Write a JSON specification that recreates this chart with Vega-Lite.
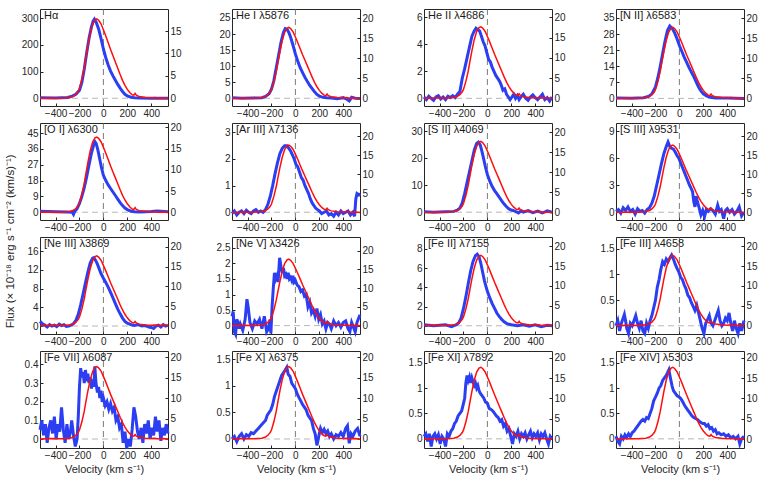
{
  "$schema": "https://vega.github.io/schema/vega-lite/v6.json",
  "background": "white",
  "padding": {"left": 5, "top": 8, "right": 2, "bottom": 2},
  "bounds": "flush",
  "title": {"text": "Flux (× 10⁻¹⁸ erg s⁻¹ cm⁻² (km/s)⁻¹)", "orient": "left", "anchor": "middle", "frame": "bounds", "fontSize": 11.5, "fontWeight": "normal", "offset": 4, "dx": 0, "color": "#262626"},
  "config": {
    "font": "Liberation Sans",
    "view": {"stroke": "#262626", "strokeWidth": 1},
    "axis": {"domain": false, "grid": false, "labelFontSize": 10, "labelColor": "#262626", "tickColor": "#262626", "tickSize": -3, "labelPadding": 5, "labelOverlap": false, "titleFontWeight": "normal", "titleFontSize": 11, "titleColor": "#262626", "titlePadding": 3, "format": "~f"},
    "axisX": {"labelOverlap": false, "labelFlush": false, "labelSeparation": 0},
    "title": {"fontWeight": "normal", "fontSize": 11, "anchor": "start", "frame": "group", "offset": -12.5, "dx": 4, "color": "#1a1a1a"},
    "line": {"clip": true}
  },
  "datasets": {
    "red": [{"v":-530,"f":0},{"v":-450,"f":0.1},{"v":-350,"f":0.05},{"v":-280,"f":0.2},{"v":-250,"f":0.5},{"v":-230,"f":0.9},{"v":-210,"f":1.6},{"v":-200,"f":2.2},{"v":-180,"f":4.2},{"v":-160,"f":6.8},{"v":-150,"f":8.5},{"v":-130,"f":11.7},{"v":-110,"f":14.5},{"v":-90,"f":16.5},{"v":-70,"f":17.5},{"v":-55,"f":17.7},{"v":-40,"f":17.4},{"v":-20,"f":16.6},{"v":0,"f":15.3},{"v":20,"f":13.9},{"v":40,"f":12.4},{"v":60,"f":10.9},{"v":80,"f":9.5},{"v":100,"f":8.1},{"v":120,"f":6.7},{"v":140,"f":5.3},{"v":160,"f":4.0},{"v":180,"f":2.9},{"v":200,"f":2.0},{"v":220,"f":1.3},{"v":240,"f":0.8},{"v":255,"f":0.7},{"v":265,"f":1.1},{"v":275,"f":0.7},{"v":300,"f":0.4},{"v":350,"f":0.2},{"v":400,"f":0.1},{"v":430,"f":0.2},{"v":450,"f":0.05},{"v":500,"f":0.1},{"v":540,"f":0}],
    "b1": [{"v":-530,"f":2},{"v":-400,"f":1},{"v":-300,"f":3},{"v":-260,"f":8},{"v":-230,"f":15},{"v":-200,"f":30},{"v":-180,"f":60},{"v":-160,"f":110},{"v":-140,"f":170},{"v":-120,"f":225},{"v":-100,"f":268},{"v":-85,"f":290},{"v":-75,"f":297},{"v":-60,"f":285},{"v":-40,"f":260},{"v":-20,"f":225},{"v":0,"f":185},{"v":20,"f":152},{"v":40,"f":125},{"v":60,"f":102},{"v":80,"f":84},{"v":100,"f":68},{"v":120,"f":52},{"v":140,"f":38},{"v":160,"f":25},{"v":180,"f":15},{"v":200,"f":9},{"v":230,"f":4},{"v":260,"f":2},{"v":300,"f":1},{"v":400,"f":0},{"v":540,"f":0}],
    "b2": [{"v":-530,"f":0.2},{"v":-450,"f":0},{"v":-350,"f":0.1},{"v":-280,"f":0.2},{"v":-250,"f":0.6},{"v":-220,"f":1.4},{"v":-200,"f":2.8},{"v":-180,"f":5.5},{"v":-160,"f":9.5},{"v":-140,"f":13.5},{"v":-120,"f":17.5},{"v":-100,"f":20.5},{"v":-85,"f":21.7},{"v":-70,"f":21.5},{"v":-55,"f":20.5},{"v":-40,"f":19},{"v":-20,"f":16.5},{"v":0,"f":13.8},{"v":20,"f":11.5},{"v":40,"f":9.5},{"v":60,"f":8},{"v":80,"f":6.5},{"v":100,"f":5.2},{"v":120,"f":4},{"v":140,"f":3},{"v":160,"f":2},{"v":180,"f":1.2},{"v":200,"f":0.7},{"v":230,"f":0.3},{"v":260,"f":0.2},{"v":300,"f":0.1},{"v":350,"f":-0.1},{"v":400,"f":0.2},{"v":430,"f":-0.3},{"v":450,"f":-0.8},{"v":470,"f":0.3},{"v":500,"f":0},{"v":540,"f":-0.1}],
    "b3": [{"v":-530,"f":0.1},{"v":-510,"f":-0.1},{"v":-490,"f":0.15},{"v":-470,"f":0},{"v":-450,"f":-0.15},{"v":-430,"f":0.1},{"v":-410,"f":0.2},{"v":-390,"f":-0.05},{"v":-370,"f":0.1},{"v":-350,"f":-0.1},{"v":-330,"f":0.15},{"v":-310,"f":0.05},{"v":-290,"f":0.2},{"v":-270,"f":0.05},{"v":-250,"f":0.3},{"v":-230,"f":0.5},{"v":-210,"f":1.5},{"v":-190,"f":2.2},{"v":-170,"f":3.0},{"v":-150,"f":3.8},{"v":-130,"f":4.6},{"v":-110,"f":5.0},{"v":-95,"f":5.2},{"v":-80,"f":5.1},{"v":-65,"f":5.0},{"v":-50,"f":4.6},{"v":-35,"f":4.2},{"v":-20,"f":3.9},{"v":-5,"f":3.4},{"v":10,"f":2.9},{"v":25,"f":2.7},{"v":40,"f":2.3},{"v":55,"f":2.0},{"v":70,"f":1.7},{"v":85,"f":1.5},{"v":100,"f":1.3},{"v":115,"f":1.0},{"v":130,"f":0.6},{"v":145,"f":0.7},{"v":160,"f":0.3},{"v":175,"f":0.1},{"v":190,"f":-0.1},{"v":205,"f":0.1},{"v":220,"f":0.3},{"v":235,"f":0},{"v":250,"f":0.2},{"v":265,"f":-0.1},{"v":280,"f":0.1},{"v":300,"f":0.3},{"v":320,"f":0},{"v":340,"f":-0.15},{"v":360,"f":0.1},{"v":380,"f":0.25},{"v":400,"f":0.05},{"v":420,"f":-0.1},{"v":440,"f":0.1},{"v":460,"f":0.3},{"v":480,"f":-0.1},{"v":500,"f":0.05},{"v":520,"f":-0.2},{"v":540,"f":0.1}],
    "b4": [{"v":-530,"f":0.2},{"v":-400,"f":0.1},{"v":-300,"f":0.3},{"v":-260,"f":0.8},{"v":-230,"f":2},{"v":-200,"f":5},{"v":-180,"f":9},{"v":-160,"f":14},{"v":-140,"f":19.5},{"v":-120,"f":25},{"v":-100,"f":29.5},{"v":-80,"f":31.5},{"v":-60,"f":30.5},{"v":-40,"f":28.5},{"v":-20,"f":26},{"v":0,"f":23},{"v":20,"f":20.5},{"v":40,"f":18},{"v":60,"f":15.8},{"v":80,"f":13.5},{"v":100,"f":11.5},{"v":120,"f":9.5},{"v":140,"f":7.2},{"v":160,"f":5.0},{"v":180,"f":3.3},{"v":200,"f":2.0},{"v":230,"f":1.0},{"v":260,"f":0.5},{"v":300,"f":0.2},{"v":400,"f":0.2},{"v":540,"f":0}],
    "b5": [{"v":-530,"f":0.5},{"v":-400,"f":0.3},{"v":-300,"f":0.2},{"v":-260,"f":0},{"v":-250,"f":-1.2},{"v":-240,"f":0.5},{"v":-220,"f":2},{"v":-200,"f":5},{"v":-180,"f":9},{"v":-160,"f":14},{"v":-140,"f":20},{"v":-120,"f":27},{"v":-100,"f":33.5},{"v":-80,"f":38.5},{"v":-70,"f":40},{"v":-60,"f":39},{"v":-45,"f":35},{"v":-30,"f":30},{"v":-15,"f":25},{"v":0,"f":21},{"v":20,"f":18},{"v":40,"f":15.5},{"v":60,"f":13.5},{"v":80,"f":11.5},{"v":100,"f":9.5},{"v":120,"f":7.5},{"v":140,"f":5.5},{"v":160,"f":3.8},{"v":180,"f":2.4},{"v":200,"f":1.5},{"v":230,"f":0.6},{"v":260,"f":0.3},{"v":300,"f":0.2},{"v":400,"f":0.4},{"v":450,"f":0.7},{"v":540,"f":0.3}],
    "b6": [{"v":-530,"f":-0.05},{"v":-510,"f":0.05},{"v":-490,"f":-0.1},{"v":-470,"f":0},{"v":-450,"f":0.05},{"v":-430,"f":-0.05},{"v":-410,"f":0.08},{"v":-390,"f":0},{"v":-370,"f":-0.05},{"v":-350,"f":0.05},{"v":-330,"f":0.1},{"v":-310,"f":0},{"v":-290,"f":0.05},{"v":-270,"f":0},{"v":-250,"f":0.1},{"v":-230,"f":0.3},{"v":-210,"f":0.6},{"v":-190,"f":1.0},{"v":-170,"f":1.45},{"v":-150,"f":1.85},{"v":-130,"f":2.2},{"v":-110,"f":2.4},{"v":-90,"f":2.5},{"v":-70,"f":2.5},{"v":-55,"f":2.4},{"v":-40,"f":2.3},{"v":-25,"f":2.15},{"v":-10,"f":2.0},{"v":5,"f":1.8},{"v":20,"f":1.7},{"v":35,"f":1.5},{"v":50,"f":1.3},{"v":65,"f":1.2},{"v":80,"f":1.0},{"v":95,"f":0.85},{"v":110,"f":0.7},{"v":125,"f":0.5},{"v":140,"f":0.35},{"v":155,"f":0.25},{"v":170,"f":0.15},{"v":185,"f":0.1},{"v":200,"f":0.05},{"v":220,"f":-0.05},{"v":240,"f":0},{"v":260,"f":0.05},{"v":280,"f":-0.1},{"v":300,"f":-0.05},{"v":320,"f":-0.15},{"v":340,"f":0},{"v":360,"f":-0.1},{"v":380,"f":0.05},{"v":400,"f":-0.05},{"v":420,"f":0},{"v":440,"f":0.05},{"v":460,"f":-0.1},{"v":480,"f":0},{"v":495,"f":-0.15},{"v":505,"f":0.5},{"v":515,"f":0.7},{"v":530,"f":0.65},{"v":540,"f":0.7}],
    "b7": [{"v":-530,"f":0.2},{"v":-450,"f":0},{"v":-350,"f":0.2},{"v":-280,"f":0.3},{"v":-250,"f":0.8},{"v":-230,"f":1.5},{"v":-210,"f":3.5},{"v":-190,"f":7},{"v":-170,"f":11},{"v":-150,"f":15},{"v":-130,"f":19},{"v":-110,"f":23},{"v":-90,"f":25.5},{"v":-75,"f":26},{"v":-60,"f":25},{"v":-45,"f":22.5},{"v":-30,"f":19.5},{"v":-15,"f":16.5},{"v":0,"f":14},{"v":20,"f":11.5},{"v":40,"f":9.5},{"v":60,"f":8},{"v":80,"f":6.8},{"v":100,"f":5.5},{"v":120,"f":4.2},{"v":140,"f":3},{"v":160,"f":2},{"v":180,"f":1.2},{"v":200,"f":0.8},{"v":230,"f":0.4},{"v":260,"f":-0.3},{"v":280,"f":0.5},{"v":300,"f":0},{"v":340,"f":0.6},{"v":380,"f":-0.2},{"v":420,"f":0.4},{"v":460,"f":-0.3},{"v":500,"f":0.5},{"v":540,"f":0}],
    "b8": [{"v":-530,"f":0.1},{"v":-510,"f":0.3},{"v":-490,"f":-0.1},{"v":-470,"f":0.5},{"v":-450,"f":0.2},{"v":-430,"f":0.6},{"v":-410,"f":0.1},{"v":-390,"f":0.3},{"v":-370,"f":-0.2},{"v":-350,"f":0.4},{"v":-330,"f":0.1},{"v":-310,"f":0.2},{"v":-290,"f":-0.1},{"v":-270,"f":0.3},{"v":-250,"f":0.5},{"v":-230,"f":1.0},{"v":-210,"f":1.8},{"v":-190,"f":3.0},{"v":-170,"f":4.2},{"v":-150,"f":5.4},{"v":-130,"f":6.5},{"v":-110,"f":7.3},{"v":-95,"f":7.8},{"v":-80,"f":7.3},{"v":-65,"f":7.1},{"v":-50,"f":7.0},{"v":-35,"f":6.7},{"v":-20,"f":6.3},{"v":-5,"f":6.0},{"v":10,"f":5.5},{"v":25,"f":5.0},{"v":40,"f":4.5},{"v":55,"f":4.0},{"v":70,"f":3.5},{"v":85,"f":3.0},{"v":100,"f":2.6},{"v":110,"f":2.3},{"v":120,"f":1.2},{"v":130,"f":0.6},{"v":140,"f":1.8},{"v":150,"f":1.2},{"v":165,"f":0.5},{"v":180,"f":-0.3},{"v":195,"f":0.2},{"v":210,"f":-0.5},{"v":225,"f":0.3},{"v":240,"f":0.1},{"v":260,"f":0.4},{"v":280,"f":0.2},{"v":300,"f":-0.2},{"v":320,"f":0.8},{"v":335,"f":0.1},{"v":350,"f":0.3},{"v":370,"f":-0.7},{"v":385,"f":0.2},{"v":400,"f":0.4},{"v":420,"f":0},{"v":440,"f":0.3},{"v":460,"f":-0.2},{"v":480,"f":0.1},{"v":500,"f":0.6},{"v":520,"f":-0.4},{"v":540,"f":0}],
    "b9": [{"v":-530,"f":1.0},{"v":-510,"f":0.5},{"v":-490,"f":0.2},{"v":-470,"f":-0.2},{"v":-450,"f":0.3},{"v":-430,"f":0},{"v":-410,"f":0.2},{"v":-390,"f":-0.1},{"v":-370,"f":0.4},{"v":-350,"f":0.1},{"v":-330,"f":0.3},{"v":-310,"f":-0.1},{"v":-290,"f":0},{"v":-270,"f":0.2},{"v":-250,"f":0.5},{"v":-230,"f":1.2},{"v":-210,"f":2.5},{"v":-190,"f":4.5},{"v":-170,"f":6.8},{"v":-150,"f":9.2},{"v":-130,"f":11.5},{"v":-110,"f":13.5},{"v":-90,"f":14.5},{"v":-80,"f":14.6},{"v":-65,"f":14.0},{"v":-50,"f":13.2},{"v":-35,"f":12.2},{"v":-20,"f":11.2},{"v":0,"f":10.2},{"v":20,"f":9.3},{"v":40,"f":8.3},{"v":60,"f":7.2},{"v":80,"f":6.0},{"v":100,"f":4.8},{"v":120,"f":3.6},{"v":140,"f":2.6},{"v":160,"f":1.7},{"v":180,"f":1.0},{"v":200,"f":0.6},{"v":220,"f":0.4},{"v":240,"f":0.2},{"v":260,"f":0.1},{"v":280,"f":0.3},{"v":300,"f":0.2},{"v":320,"f":0},{"v":340,"f":0.1},{"v":360,"f":0},{"v":380,"f":-0.2},{"v":400,"f":-0.3},{"v":420,"f":-0.5},{"v":440,"f":0},{"v":460,"f":0.2},{"v":480,"f":-0.2},{"v":500,"f":0.3},{"v":520,"f":0},{"v":540,"f":0.2}],
    "b10": [{"v":-530,"f":0.3},{"v":-520,"f":0.45},{"v":-510,"f":-0.2},{"v":-500,"f":-0.28},{"v":-490,"f":0.2},{"v":-480,"f":0.1},{"v":-470,"f":-0.1},{"v":-460,"f":0.05},{"v":-440,"f":-0.15},{"v":-420,"f":0.2},{"v":-405,"f":0.85},{"v":-395,"f":0.6},{"v":-380,"f":0.1},{"v":-360,"f":-0.1},{"v":-340,"f":0.15},{"v":-320,"f":0.05},{"v":-300,"f":0.2},{"v":-280,"f":-0.1},{"v":-260,"f":0.3},{"v":-240,"f":-0.2},{"v":-225,"f":-0.1},{"v":-212,"f":0.2},{"v":-205,"f":-0.25},{"v":-195,"f":0.6},{"v":-185,"f":1.2},{"v":-175,"f":1.7},{"v":-165,"f":1.5},{"v":-155,"f":1.6},{"v":-145,"f":1.4},{"v":-132,"f":2.18},{"v":-120,"f":1.9},{"v":-110,"f":1.7},{"v":-100,"f":1.85},{"v":-90,"f":1.6},{"v":-80,"f":1.65},{"v":-70,"f":1.5},{"v":-60,"f":1.7},{"v":-50,"f":1.5},{"v":-40,"f":1.55},{"v":-30,"f":1.45},{"v":-20,"f":1.6},{"v":-10,"f":1.4},{"v":0,"f":1.45},{"v":15,"f":1.3},{"v":30,"f":1.25},{"v":45,"f":1.1},{"v":60,"f":1.15},{"v":75,"f":0.95},{"v":90,"f":1.0},{"v":105,"f":0.6},{"v":120,"f":0.75},{"v":135,"f":0.4},{"v":150,"f":0.5},{"v":165,"f":0.3},{"v":180,"f":0.55},{"v":195,"f":0.2},{"v":210,"f":0.35},{"v":225,"f":0.05},{"v":240,"f":0.15},{"v":255,"f":-0.1},{"v":270,"f":0.1},{"v":285,"f":0.05},{"v":300,"f":-0.1},{"v":320,"f":0.15},{"v":340,"f":0},{"v":360,"f":0.1},{"v":380,"f":-0.05},{"v":400,"f":0.1},{"v":420,"f":0.15},{"v":440,"f":-0.1},{"v":455,"f":-0.2},{"v":470,"f":0.1},{"v":485,"f":-0.05},{"v":500,"f":-0.2},{"v":515,"f":0.1},{"v":530,"f":0.25},{"v":540,"f":0.35}],
    "b11": [{"v":-530,"f":0.1},{"v":-450,"f":0},{"v":-350,"f":0.1},{"v":-300,"f":-0.1},{"v":-260,"f":0.1},{"v":-240,"f":0.3},{"v":-220,"f":0.8},{"v":-200,"f":1.8},{"v":-180,"f":3.0},{"v":-160,"f":4.4},{"v":-140,"f":5.7},{"v":-120,"f":6.7},{"v":-100,"f":7.3},{"v":-85,"f":7.45},{"v":-70,"f":7.2},{"v":-55,"f":6.5},{"v":-40,"f":5.6},{"v":-25,"f":4.7},{"v":-10,"f":4.0},{"v":0,"f":3.6},{"v":20,"f":2.9},{"v":40,"f":2.3},{"v":60,"f":1.8},{"v":80,"f":1.3},{"v":100,"f":0.95},{"v":120,"f":0.65},{"v":140,"f":0.4},{"v":160,"f":0.25},{"v":180,"f":0.15},{"v":200,"f":0.1},{"v":250,"f":0},{"v":300,"f":0.1},{"v":350,"f":-0.05},{"v":400,"f":0.1},{"v":450,"f":-0.1},{"v":500,"f":0.05},{"v":540,"f":0}],
    "b12": [{"v":-530,"f":0},{"v":-515,"f":0.1},{"v":-500,"f":-0.1},{"v":-485,"f":0.05},{"v":-470,"f":0.15},{"v":-460,"f":0.22},{"v":-450,"f":0.1},{"v":-440,"f":-0.05},{"v":-425,"f":-0.15},{"v":-410,"f":0.05},{"v":-395,"f":0.0},{"v":-380,"f":0.1},{"v":-365,"f":0.2},{"v":-350,"f":0.05},{"v":-335,"f":-0.05},{"v":-320,"f":0.1},{"v":-305,"f":-0.1},{"v":-290,"f":-0.15},{"v":-275,"f":0.05},{"v":-260,"f":-0.05},{"v":-245,"f":0.1},{"v":-230,"f":0.2},{"v":-215,"f":0.35},{"v":-200,"f":0.5},{"v":-185,"f":0.75},{"v":-170,"f":0.9},{"v":-155,"f":1.1},{"v":-140,"f":1.25},{"v":-125,"f":1.2},{"v":-110,"f":1.3},{"v":-95,"f":1.25},{"v":-80,"f":1.32},{"v":-65,"f":1.38},{"v":-50,"f":1.3},{"v":-35,"f":1.2},{"v":-20,"f":1.12},{"v":-5,"f":1.05},{"v":10,"f":0.95},{"v":25,"f":0.9},{"v":40,"f":0.8},{"v":55,"f":0.72},{"v":70,"f":0.6},{"v":85,"f":0.55},{"v":100,"f":0.45},{"v":115,"f":0.38},{"v":130,"f":0.3},{"v":145,"f":0.4},{"v":160,"f":0.25},{"v":175,"f":0.1},{"v":190,"f":-0.05},{"v":205,"f":-0.15},{"v":220,"f":0.05},{"v":235,"f":0.12},{"v":250,"f":0.2},{"v":265,"f":0.05},{"v":280,"f":0.0},{"v":295,"f":0.1},{"v":310,"f":0.2},{"v":325,"f":0.3},{"v":340,"f":0.1},{"v":355,"f":0.0},{"v":370,"f":0.05},{"v":385,"f":0.15},{"v":400,"f":0.1},{"v":415,"f":0.25},{"v":430,"f":0.05},{"v":445,"f":-0.1},{"v":460,"f":0.1},{"v":475,"f":-0.05},{"v":490,"f":-0.15},{"v":505,"f":0.05},{"v":520,"f":-0.1},{"v":540,"f":0.1}],
    "b13": [{"v":-530,"f":0.05},{"v":-515,"f":0.1},{"v":-500,"f":0.02},{"v":-485,"f":0.08},{"v":-470,"f":-0.02},{"v":-455,"f":0.06},{"v":-440,"f":0.1},{"v":-425,"f":0.03},{"v":-410,"f":0.12},{"v":-395,"f":0.0},{"v":-380,"f":0.08},{"v":-365,"f":0.04},{"v":-350,"f":0.17},{"v":-335,"f":0.05},{"v":-320,"f":-0.02},{"v":-305,"f":0.08},{"v":-290,"f":0.0},{"v":-275,"f":0.04},{"v":-265,"f":0.1},{"v":-250,"f":0.02},{"v":-235,"f":-0.04},{"v":-220,"f":0.0},{"v":-210,"f":0.12},{"v":-200,"f":0.28},{"v":-190,"f":0.38},{"v":-180,"f":0.33},{"v":-170,"f":0.36},{"v":-160,"f":0.30},{"v":-150,"f":0.37},{"v":-140,"f":0.31},{"v":-130,"f":0.35},{"v":-120,"f":0.30},{"v":-110,"f":0.33},{"v":-100,"f":0.27},{"v":-90,"f":0.32},{"v":-80,"f":0.28},{"v":-72,"f":0.39},{"v":-62,"f":0.3},{"v":-50,"f":0.25},{"v":-40,"f":0.28},{"v":-30,"f":0.22},{"v":-20,"f":0.26},{"v":-10,"f":0.2},{"v":0,"f":0.22},{"v":15,"f":0.18},{"v":30,"f":0.2},{"v":45,"f":0.16},{"v":60,"f":0.19},{"v":75,"f":0.15},{"v":90,"f":0.17},{"v":105,"f":0.1},{"v":120,"f":0.12},{"v":135,"f":0.06},{"v":150,"f":0.08},{"v":165,"f":-0.02},{"v":180,"f":0.04},{"v":195,"f":-0.05},{"v":210,"f":0.0},{"v":225,"f":-0.04},{"v":240,"f":0.05},{"v":255,"f":0.17},{"v":270,"f":0.12},{"v":285,"f":0.04},{"v":300,"f":0.0},{"v":315,"f":0.06},{"v":330,"f":-0.02},{"v":345,"f":0.08},{"v":360,"f":0.03},{"v":375,"f":0.1},{"v":390,"f":0.0},{"v":405,"f":0.06},{"v":420,"f":0.02},{"v":435,"f":0.12},{"v":450,"f":0.04},{"v":465,"f":0.1},{"v":480,"f":-0.01},{"v":495,"f":0.06},{"v":510,"f":0.02},{"v":525,"f":0.08},{"v":540,"f":0.03}],
    "b14": [{"v":-530,"f":0.0},{"v":-510,"f":0.05},{"v":-490,"f":-0.05},{"v":-470,"f":0.05},{"v":-450,"f":0.1},{"v":-430,"f":0.0},{"v":-410,"f":0.08},{"v":-390,"f":0.05},{"v":-370,"f":0.12},{"v":-350,"f":0.1},{"v":-330,"f":0.15},{"v":-310,"f":0.2},{"v":-290,"f":0.25},{"v":-270,"f":0.3},{"v":-250,"f":0.35},{"v":-235,"f":0.45},{"v":-220,"f":0.5},{"v":-205,"f":0.55},{"v":-190,"f":0.65},{"v":-175,"f":0.8},{"v":-160,"f":0.9},{"v":-145,"f":1.0},{"v":-130,"f":1.1},{"v":-115,"f":1.2},{"v":-100,"f":1.25},{"v":-85,"f":1.3},{"v":-72,"f":1.35},{"v":-60,"f":1.22},{"v":-45,"f":1.18},{"v":-30,"f":1.05},{"v":-15,"f":1.0},{"v":0,"f":0.95},{"v":15,"f":0.85},{"v":30,"f":0.78},{"v":45,"f":0.72},{"v":60,"f":0.65},{"v":75,"f":0.6},{"v":90,"f":0.55},{"v":105,"f":0.45},{"v":120,"f":0.4},{"v":135,"f":0.35},{"v":150,"f":0.2},{"v":165,"f":0.1},{"v":180,"f":-0.12},{"v":195,"f":0.05},{"v":210,"f":0.2},{"v":225,"f":0.12},{"v":240,"f":0.18},{"v":255,"f":0.1},{"v":270,"f":0.15},{"v":285,"f":0.05},{"v":300,"f":0.1},{"v":320,"f":0.0},{"v":340,"f":0.08},{"v":360,"f":0.05},{"v":380,"f":0.12},{"v":400,"f":0.05},{"v":420,"f":0.2},{"v":435,"f":0.25},{"v":450,"f":-0.08},{"v":465,"f":0.1},{"v":480,"f":0.05},{"v":500,"f":0.15},{"v":520,"f":0.2},{"v":540,"f":0.05}],
    "b15": [{"v":-530,"f":0.05},{"v":-515,"f":0.1},{"v":-500,"f":-0.05},{"v":-485,"f":0.1},{"v":-470,"f":-0.15},{"v":-455,"f":0.05},{"v":-440,"f":0.1},{"v":-425,"f":0.0},{"v":-410,"f":0.08},{"v":-395,"f":-0.1},{"v":-380,"f":0.05},{"v":-365,"f":0.0},{"v":-350,"f":-0.15},{"v":-335,"f":0.1},{"v":-320,"f":0.05},{"v":-305,"f":0.15},{"v":-290,"f":0.2},{"v":-275,"f":0.3},{"v":-260,"f":0.35},{"v":-245,"f":0.45},{"v":-230,"f":0.5},{"v":-215,"f":0.55},{"v":-200,"f":0.7},{"v":-190,"f":0.8},{"v":-180,"f":1.1},{"v":-170,"f":1.25},{"v":-160,"f":1.15},{"v":-150,"f":1.22},{"v":-140,"f":1.1},{"v":-130,"f":1.2},{"v":-120,"f":1.12},{"v":-110,"f":1.05},{"v":-100,"f":1.1},{"v":-90,"f":1.0},{"v":-80,"f":1.05},{"v":-70,"f":0.95},{"v":-60,"f":0.9},{"v":-45,"f":0.85},{"v":-30,"f":0.8},{"v":-15,"f":0.72},{"v":0,"f":0.7},{"v":15,"f":0.6},{"v":30,"f":0.58},{"v":45,"f":0.55},{"v":60,"f":0.5},{"v":75,"f":0.45},{"v":90,"f":0.42},{"v":105,"f":0.35},{"v":120,"f":0.38},{"v":135,"f":0.25},{"v":150,"f":0.3},{"v":165,"f":0.15},{"v":180,"f":0.2},{"v":195,"f":0.05},{"v":210,"f":-0.1},{"v":225,"f":0.1},{"v":240,"f":0.05},{"v":255,"f":0.15},{"v":270,"f":0.0},{"v":285,"f":0.1},{"v":300,"f":0.05},{"v":315,"f":0.12},{"v":330,"f":0.0},{"v":345,"f":0.08},{"v":360,"f":0.15},{"v":375,"f":0.02},{"v":390,"f":0.1},{"v":405,"f":0.05},{"v":420,"f":0.12},{"v":435,"f":-0.02},{"v":450,"f":0.1},{"v":465,"f":0.05},{"v":480,"f":0.12},{"v":495,"f":0.0},{"v":510,"f":-0.1},{"v":525,"f":0.05},{"v":540,"f":0.0}],
    "b16": [{"v":-530,"f":0.05},{"v":-515,"f":-0.05},{"v":-500,"f":-0.1},{"v":-485,"f":0.05},{"v":-470,"f":0.0},{"v":-455,"f":0.08},{"v":-440,"f":0.03},{"v":-425,"f":0.1},{"v":-410,"f":0.05},{"v":-395,"f":0.12},{"v":-380,"f":0.15},{"v":-365,"f":0.2},{"v":-350,"f":0.25},{"v":-335,"f":0.3},{"v":-320,"f":0.35},{"v":-305,"f":0.38},{"v":-290,"f":0.35},{"v":-275,"f":0.42},{"v":-260,"f":0.4},{"v":-245,"f":0.5},{"v":-230,"f":0.6},{"v":-215,"f":0.75},{"v":-200,"f":0.82},{"v":-185,"f":0.9},{"v":-170,"f":1.0},{"v":-155,"f":1.05},{"v":-140,"f":1.15},{"v":-125,"f":1.2},{"v":-110,"f":1.25},{"v":-100,"f":1.3},{"v":-88,"f":1.36},{"v":-75,"f":1.2},{"v":-62,"f":1.05},{"v":-50,"f":0.95},{"v":-35,"f":0.9},{"v":-20,"f":0.85},{"v":0,"f":0.82},{"v":15,"f":0.78},{"v":30,"f":0.72},{"v":45,"f":0.65},{"v":60,"f":0.6},{"v":75,"f":0.55},{"v":90,"f":0.5},{"v":105,"f":0.45},{"v":120,"f":0.42},{"v":135,"f":0.4},{"v":150,"f":0.38},{"v":165,"f":0.35},{"v":180,"f":0.32},{"v":195,"f":0.3},{"v":210,"f":0.3},{"v":225,"f":0.25},{"v":240,"f":0.28},{"v":255,"f":0.2},{"v":270,"f":0.22},{"v":285,"f":0.15},{"v":300,"f":0.18},{"v":315,"f":0.1},{"v":330,"f":0.12},{"v":350,"f":0.08},{"v":370,"f":0.1},{"v":390,"f":0.05},{"v":410,"f":0.08},{"v":430,"f":0.02},{"v":450,"f":0.05},{"v":470,"f":0.0},{"v":490,"f":0.05},{"v":505,"f":-0.1},{"v":520,"f":0.0},{"v":540,"f":0.05}]
  },
  "columns": 4,
  "spacing": {"row": 17, "column": 64},
  "concat": [
    {"width":128,"height":97,"title":"Hα","layer":[
      {"data":{"values":[{}]},"mark":{"type":"rule","strokeDash":[6,4],"color":"#595959","strokeWidth":0.8},"encoding":{"x":{"datum":0,"type":"quantitative","scale":{"domain":[-530,540],"nice":false},"axis":{"values":[-400,-200,0,200,400],"labelOverlap":false,"title":null}}}},
      {"data":{"values":[{}]},"mark":{"type":"rule","strokeDash":[6,4],"color":"#a6a6a6","strokeWidth":0.8},"encoding":{"y":{"datum":0,"type":"quantitative","scale":{"domain":[-29,335],"nice":false,"zero":false},"axis":null}}},
      {"data":{"name":"b1"},"mark":{"type":"line","color":"#2b3ef2","strokeWidth":3},"encoding":{"x":{"field":"v","type":"quantitative","axis":{"values":[-400,-200,0,200,400],"labelOverlap":false,"title":null}},"y":{"field":"f","type":"quantitative","scale":{"domain":[-29,335],"nice":false,"zero":false},"axis":{"values":[0,100,200,300],"title":null}}}},
      {"data":{"name":"red"},"mark":{"type":"line","color":"#ff0d0d","strokeWidth":1.5},"encoding":{"x":{"field":"v","type":"quantitative","axis":{"values":[-400,-200,0,200,400],"labelOverlap":false,"title":null}},"y":{"field":"f","type":"quantitative","scale":{"domain":[-1.7,19.9],"nice":false,"zero":false},"axis":{"orient":"right","values":[0,5,10,15],"title":null}}}}
    ],"resolve":{"scale":{"y":"independent"},"axis":{"y":"independent"}}},
    {"width":128,"height":97,"title":"He I λ5876","layer":[
      {"data":{"values":[{}]},"mark":{"type":"rule","strokeDash":[6,4],"color":"#595959","strokeWidth":0.8},"encoding":{"x":{"datum":0,"type":"quantitative","scale":{"domain":[-530,540],"nice":false},"axis":{"values":[-400,-200,0,200,400],"labelOverlap":false,"title":null}}}},
      {"data":{"values":[{}]},"mark":{"type":"rule","strokeDash":[6,4],"color":"#a6a6a6","strokeWidth":0.8},"encoding":{"y":{"datum":0,"type":"quantitative","scale":{"domain":[-2.4,27.8],"nice":false,"zero":false},"axis":null}}},
      {"data":{"name":"b2"},"mark":{"type":"line","color":"#2b3ef2","strokeWidth":3},"encoding":{"x":{"field":"v","type":"quantitative","axis":{"values":[-400,-200,0,200,400],"labelOverlap":false,"title":null}},"y":{"field":"f","type":"quantitative","scale":{"domain":[-2.4,27.8],"nice":false,"zero":false},"axis":{"values":[0,5,10,15,20,25],"title":null}}}},
      {"data":{"name":"red"},"mark":{"type":"line","color":"#ff0d0d","strokeWidth":1.5},"encoding":{"x":{"field":"v","type":"quantitative","axis":{"values":[-400,-200,0,200,400],"labelOverlap":false,"title":null}},"y":{"field":"f","type":"quantitative","scale":{"domain":[-1.9,22.3],"nice":false,"zero":false},"axis":{"orient":"right","values":[0,5,10,15,20],"title":null}}}}
    ],"resolve":{"scale":{"y":"independent"},"axis":{"y":"independent"}}},
    {"width":128,"height":97,"title":"He II λ4686","layer":[
      {"data":{"values":[{}]},"mark":{"type":"rule","strokeDash":[6,4],"color":"#595959","strokeWidth":0.8},"encoding":{"x":{"datum":0,"type":"quantitative","scale":{"domain":[-530,540],"nice":false},"axis":{"values":[-400,-200,0,200,400],"labelOverlap":false,"title":null}}}},
      {"data":{"values":[{}]},"mark":{"type":"rule","strokeDash":[6,4],"color":"#a6a6a6","strokeWidth":0.8},"encoding":{"y":{"datum":0,"type":"quantitative","scale":{"domain":[-0.57,6.63],"nice":false,"zero":false},"axis":null}}},
      {"data":{"name":"b3"},"mark":{"type":"line","color":"#2b3ef2","strokeWidth":3},"encoding":{"x":{"field":"v","type":"quantitative","axis":{"values":[-400,-200,0,200,400],"labelOverlap":false,"title":null}},"y":{"field":"f","type":"quantitative","scale":{"domain":[-0.57,6.63],"nice":false,"zero":false},"axis":{"values":[0,2,4,6],"title":null}}}},
      {"data":{"name":"red"},"mark":{"type":"line","color":"#ff0d0d","strokeWidth":1.5},"encoding":{"x":{"field":"v","type":"quantitative","axis":{"values":[-400,-200,0,200,400],"labelOverlap":false,"title":null}},"y":{"field":"f","type":"quantitative","scale":{"domain":[-1.9,22.1],"nice":false,"zero":false},"axis":{"orient":"right","values":[0,5,10,15,20],"title":null}}}}
    ],"resolve":{"scale":{"y":"independent"},"axis":{"y":"independent"}}},
    {"width":128,"height":97,"title":"[N II] λ6583","layer":[
      {"data":{"values":[{}]},"mark":{"type":"rule","strokeDash":[6,4],"color":"#595959","strokeWidth":0.8},"encoding":{"x":{"datum":0,"type":"quantitative","scale":{"domain":[-530,540],"nice":false},"axis":{"values":[-400,-200,0,200,400],"labelOverlap":false,"title":null}}}},
      {"data":{"values":[{}]},"mark":{"type":"rule","strokeDash":[6,4],"color":"#a6a6a6","strokeWidth":0.8},"encoding":{"y":{"datum":0,"type":"quantitative","scale":{"domain":[-3.3,38.9],"nice":false,"zero":false},"axis":null}}},
      {"data":{"name":"b4"},"mark":{"type":"line","color":"#2b3ef2","strokeWidth":3},"encoding":{"x":{"field":"v","type":"quantitative","axis":{"values":[-400,-200,0,200,400],"labelOverlap":false,"title":null}},"y":{"field":"f","type":"quantitative","scale":{"domain":[-3.3,38.9],"nice":false,"zero":false},"axis":{"values":[0,7,14,21,28,35],"title":null}}}},
      {"data":{"name":"red"},"mark":{"type":"line","color":"#ff0d0d","strokeWidth":1.5},"encoding":{"x":{"field":"v","type":"quantitative","axis":{"values":[-400,-200,0,200,400],"labelOverlap":false,"title":null}},"y":{"field":"f","type":"quantitative","scale":{"domain":[-1.9,22.3],"nice":false,"zero":false},"axis":{"orient":"right","values":[0,5,10,15,20],"title":null}}}}
    ],"resolve":{"scale":{"y":"independent"},"axis":{"y":"independent"}}},
    {"width":128,"height":97,"title":"[O I] λ6300","layer":[
      {"data":{"values":[{}]},"mark":{"type":"rule","strokeDash":[6,4],"color":"#595959","strokeWidth":0.8},"encoding":{"x":{"datum":0,"type":"quantitative","scale":{"domain":[-530,540],"nice":false},"axis":{"values":[-400,-200,0,200,400],"labelOverlap":false,"title":null}}}},
      {"data":{"values":[{}]},"mark":{"type":"rule","strokeDash":[6,4],"color":"#a6a6a6","strokeWidth":0.8},"encoding":{"y":{"datum":0,"type":"quantitative","scale":{"domain":[-4.4,50.7],"nice":false,"zero":false},"axis":null}}},
      {"data":{"name":"b5"},"mark":{"type":"line","color":"#2b3ef2","strokeWidth":3},"encoding":{"x":{"field":"v","type":"quantitative","axis":{"values":[-400,-200,0,200,400],"labelOverlap":false,"title":null}},"y":{"field":"f","type":"quantitative","scale":{"domain":[-4.4,50.7],"nice":false,"zero":false},"axis":{"values":[0,9,18,27,36,45],"title":null}}}},
      {"data":{"name":"red"},"mark":{"type":"line","color":"#ff0d0d","strokeWidth":1.5},"encoding":{"x":{"field":"v","type":"quantitative","axis":{"values":[-400,-200,0,200,400],"labelOverlap":false,"title":null}},"y":{"field":"f","type":"quantitative","scale":{"domain":[-1.8,21.0],"nice":false,"zero":false},"axis":{"orient":"right","values":[0,5,10,15,20],"title":null}}}}
    ],"resolve":{"scale":{"y":"independent"},"axis":{"y":"independent"}}},
    {"width":128,"height":97,"title":"[Ar III] λ7136","layer":[
      {"data":{"values":[{}]},"mark":{"type":"rule","strokeDash":[6,4],"color":"#595959","strokeWidth":0.8},"encoding":{"x":{"datum":0,"type":"quantitative","scale":{"domain":[-530,540],"nice":false},"axis":{"values":[-400,-200,0,200,400],"labelOverlap":false,"title":null}}}},
      {"data":{"values":[{}]},"mark":{"type":"rule","strokeDash":[6,4],"color":"#a6a6a6","strokeWidth":0.8},"encoding":{"y":{"datum":0,"type":"quantitative","scale":{"domain":[-0.29,3.35],"nice":false,"zero":false},"axis":null}}},
      {"data":{"name":"b6"},"mark":{"type":"line","color":"#2b3ef2","strokeWidth":3},"encoding":{"x":{"field":"v","type":"quantitative","axis":{"values":[-400,-200,0,200,400],"labelOverlap":false,"title":null}},"y":{"field":"f","type":"quantitative","scale":{"domain":[-0.29,3.35],"nice":false,"zero":false},"axis":{"values":[0,1,2,3],"title":null}}}},
      {"data":{"name":"red"},"mark":{"type":"line","color":"#ff0d0d","strokeWidth":1.5},"encoding":{"x":{"field":"v","type":"quantitative","axis":{"values":[-400,-200,0,200,400],"labelOverlap":false,"title":null}},"y":{"field":"f","type":"quantitative","scale":{"domain":[-2.0,23.5],"nice":false,"zero":false},"axis":{"orient":"right","values":[0,5,10,15,20],"title":null}}}}
    ],"resolve":{"scale":{"y":"independent"},"axis":{"y":"independent"}}},
    {"width":128,"height":97,"title":"[S II] λ4069","layer":[
      {"data":{"values":[{}]},"mark":{"type":"rule","strokeDash":[6,4],"color":"#595959","strokeWidth":0.8},"encoding":{"x":{"datum":0,"type":"quantitative","scale":{"domain":[-530,540],"nice":false},"axis":{"values":[-400,-200,0,200,400],"labelOverlap":false,"title":null}}}},
      {"data":{"values":[{}]},"mark":{"type":"rule","strokeDash":[6,4],"color":"#a6a6a6","strokeWidth":0.8},"encoding":{"y":{"datum":0,"type":"quantitative","scale":{"domain":[-2.9,33.1],"nice":false,"zero":false},"axis":null}}},
      {"data":{"name":"b7"},"mark":{"type":"line","color":"#2b3ef2","strokeWidth":3},"encoding":{"x":{"field":"v","type":"quantitative","axis":{"values":[-400,-200,0,200,400],"labelOverlap":false,"title":null}},"y":{"field":"f","type":"quantitative","scale":{"domain":[-2.9,33.1],"nice":false,"zero":false},"axis":{"values":[0,10,20,30],"title":null}}}},
      {"data":{"name":"red"},"mark":{"type":"line","color":"#ff0d0d","strokeWidth":1.5},"encoding":{"x":{"field":"v","type":"quantitative","axis":{"values":[-400,-200,0,200,400],"labelOverlap":false,"title":null}},"y":{"field":"f","type":"quantitative","scale":{"domain":[-1.9,22.3],"nice":false,"zero":false},"axis":{"orient":"right","values":[0,5,10,15,20],"title":null}}}}
    ],"resolve":{"scale":{"y":"independent"},"axis":{"y":"independent"}}},
    {"width":128,"height":97,"title":"[S III] λ9531","layer":[
      {"data":{"values":[{}]},"mark":{"type":"rule","strokeDash":[6,4],"color":"#595959","strokeWidth":0.8},"encoding":{"x":{"datum":0,"type":"quantitative","scale":{"domain":[-530,540],"nice":false},"axis":{"values":[-400,-200,0,200,400],"labelOverlap":false,"title":null}}}},
      {"data":{"values":[{}]},"mark":{"type":"rule","strokeDash":[6,4],"color":"#a6a6a6","strokeWidth":0.8},"encoding":{"y":{"datum":0,"type":"quantitative","scale":{"domain":[-0.86,9.92],"nice":false,"zero":false},"axis":null}}},
      {"data":{"name":"b8"},"mark":{"type":"line","color":"#2b3ef2","strokeWidth":3},"encoding":{"x":{"field":"v","type":"quantitative","axis":{"values":[-400,-200,0,200,400],"labelOverlap":false,"title":null}},"y":{"field":"f","type":"quantitative","scale":{"domain":[-0.86,9.92],"nice":false,"zero":false},"axis":{"values":[0,3,6,9],"title":null}}}},
      {"data":{"name":"red"},"mark":{"type":"line","color":"#ff0d0d","strokeWidth":1.5},"encoding":{"x":{"field":"v","type":"quantitative","axis":{"values":[-400,-200,0,200,400],"labelOverlap":false,"title":null}},"y":{"field":"f","type":"quantitative","scale":{"domain":[-2.0,23.5],"nice":false,"zero":false},"axis":{"orient":"right","values":[0,5,10,15,20],"title":null}}}}
    ],"resolve":{"scale":{"y":"independent"},"axis":{"y":"independent"}}},
    {"width":128,"height":97,"title":"[Ne III] λ3869","layer":[
      {"data":{"values":[{}]},"mark":{"type":"rule","strokeDash":[6,4],"color":"#595959","strokeWidth":0.8},"encoding":{"x":{"datum":0,"type":"quantitative","scale":{"domain":[-530,540],"nice":false},"axis":{"values":[-400,-200,0,200,400],"labelOverlap":false,"title":null}}}},
      {"data":{"values":[{}]},"mark":{"type":"rule","strokeDash":[6,4],"color":"#a6a6a6","strokeWidth":0.8},"encoding":{"y":{"datum":0,"type":"quantitative","scale":{"domain":[-1.7,19.0],"nice":false,"zero":false},"axis":null}}},
      {"data":{"name":"b9"},"mark":{"type":"line","color":"#2b3ef2","strokeWidth":3},"encoding":{"x":{"field":"v","type":"quantitative","axis":{"values":[-400,-200,0,200,400],"labelOverlap":false,"title":null}},"y":{"field":"f","type":"quantitative","scale":{"domain":[-1.7,19.0],"nice":false,"zero":false},"axis":{"values":[0,4,8,12,16],"title":null}}}},
      {"data":{"name":"red"},"mark":{"type":"line","color":"#ff0d0d","strokeWidth":1.5},"encoding":{"x":{"field":"v","type":"quantitative","axis":{"values":[-400,-200,0,200,400],"labelOverlap":false,"title":null}},"y":{"field":"f","type":"quantitative","scale":{"domain":[-2.1,22.5],"nice":false,"zero":false},"axis":{"orient":"right","values":[0,5,10,15,20],"title":null}}}}
    ],"resolve":{"scale":{"y":"independent"},"axis":{"y":"independent"}}},
    {"width":128,"height":97,"title":"[Ne V] λ3426","layer":[
      {"data":{"values":[{}]},"mark":{"type":"rule","strokeDash":[6,4],"color":"#595959","strokeWidth":0.8},"encoding":{"x":{"datum":0,"type":"quantitative","scale":{"domain":[-530,540],"nice":false},"axis":{"values":[-400,-200,0,200,400],"labelOverlap":false,"title":null}}}},
      {"data":{"values":[{}]},"mark":{"type":"rule","strokeDash":[6,4],"color":"#a6a6a6","strokeWidth":0.8},"encoding":{"y":{"datum":0,"type":"quantitative","scale":{"domain":[-0.27,2.85],"nice":false,"zero":false},"axis":null}}},
      {"data":{"name":"b10"},"mark":{"type":"line","color":"#2b3ef2","strokeWidth":3},"encoding":{"x":{"field":"v","type":"quantitative","axis":{"values":[-400,-200,0,200,400],"labelOverlap":false,"title":null}},"y":{"field":"f","type":"quantitative","scale":{"domain":[-0.27,2.85],"nice":false,"zero":false},"axis":{"values":[0,0.5,1,1.5,2,2.5],"title":null}}}},
      {"data":{"name":"red"},"mark":{"type":"line","color":"#ff0d0d","strokeWidth":1.5},"encoding":{"x":{"field":"v","type":"quantitative","axis":{"values":[-400,-200,0,200,400],"labelOverlap":false,"title":null}},"y":{"field":"f","type":"quantitative","scale":{"domain":[-2.2,23.6],"nice":false,"zero":false},"axis":{"orient":"right","values":[0,5,10,15,20],"title":null}}}}
    ],"resolve":{"scale":{"y":"independent"},"axis":{"y":"independent"}}},
    {"width":128,"height":97,"title":"[Fe II] λ7155","layer":[
      {"data":{"values":[{}]},"mark":{"type":"rule","strokeDash":[6,4],"color":"#595959","strokeWidth":0.8},"encoding":{"x":{"datum":0,"type":"quantitative","scale":{"domain":[-530,540],"nice":false},"axis":{"values":[-400,-200,0,200,400],"labelOverlap":false,"title":null}}}},
      {"data":{"values":[{}]},"mark":{"type":"rule","strokeDash":[6,4],"color":"#a6a6a6","strokeWidth":0.8},"encoding":{"y":{"datum":0,"type":"quantitative","scale":{"domain":[-0.86,9.24],"nice":false,"zero":false},"axis":null}}},
      {"data":{"name":"b11"},"mark":{"type":"line","color":"#2b3ef2","strokeWidth":3},"encoding":{"x":{"field":"v","type":"quantitative","axis":{"values":[-400,-200,0,200,400],"labelOverlap":false,"title":null}},"y":{"field":"f","type":"quantitative","scale":{"domain":[-0.86,9.24],"nice":false,"zero":false},"axis":{"values":[0,2,4,6,8],"title":null}}}},
      {"data":{"name":"red"},"mark":{"type":"line","color":"#ff0d0d","strokeWidth":1.5},"encoding":{"x":{"field":"v","type":"quantitative","axis":{"values":[-400,-200,0,200,400],"labelOverlap":false,"title":null}},"y":{"field":"f","type":"quantitative","scale":{"domain":[-2.1,22.3],"nice":false,"zero":false},"axis":{"orient":"right","values":[0,5,10,15,20],"title":null}}}}
    ],"resolve":{"scale":{"y":"independent"},"axis":{"y":"independent"}}},
    {"width":128,"height":97,"title":"[Fe III] λ4658","layer":[
      {"data":{"values":[{}]},"mark":{"type":"rule","strokeDash":[6,4],"color":"#595959","strokeWidth":0.8},"encoding":{"x":{"datum":0,"type":"quantitative","scale":{"domain":[-530,540],"nice":false},"axis":{"values":[-400,-200,0,200,400],"labelOverlap":false,"title":null}}}},
      {"data":{"values":[{}]},"mark":{"type":"rule","strokeDash":[6,4],"color":"#a6a6a6","strokeWidth":0.8},"encoding":{"y":{"datum":0,"type":"quantitative","scale":{"domain":[-0.16,1.73],"nice":false,"zero":false},"axis":null}}},
      {"data":{"name":"b12"},"mark":{"type":"line","color":"#2b3ef2","strokeWidth":3},"encoding":{"x":{"field":"v","type":"quantitative","axis":{"values":[-400,-200,0,200,400],"labelOverlap":false,"title":null}},"y":{"field":"f","type":"quantitative","scale":{"domain":[-0.16,1.73],"nice":false,"zero":false},"axis":{"values":[0,0.5,1,1.5],"title":null}}}},
      {"data":{"name":"red"},"mark":{"type":"line","color":"#ff0d0d","strokeWidth":1.5},"encoding":{"x":{"field":"v","type":"quantitative","axis":{"values":[-400,-200,0,200,400],"labelOverlap":false,"title":null}},"y":{"field":"f","type":"quantitative","scale":{"domain":[-2.1,22.3],"nice":false,"zero":false},"axis":{"orient":"right","values":[0,5,10,15,20],"title":null}}}}
    ],"resolve":{"scale":{"y":"independent"},"axis":{"y":"independent"}}},
    {"width":128,"height":97,"title":"[Fe VII] λ6087","layer":[
      {"data":{"values":[{}]},"mark":{"type":"rule","strokeDash":[6,4],"color":"#595959","strokeWidth":0.8},"encoding":{"x":{"datum":0,"type":"quantitative","scale":{"domain":[-530,540],"nice":false},"axis":{"values":[-400,-200,0,200,400],"labelOverlap":false,"title":"Velocity (km s⁻¹)"}}}},
      {"data":{"values":[{}]},"mark":{"type":"rule","strokeDash":[6,4],"color":"#a6a6a6","strokeWidth":0.8},"encoding":{"y":{"datum":0,"type":"quantitative","scale":{"domain":[-0.048,0.472],"nice":false,"zero":false},"axis":null}}},
      {"data":{"name":"b13"},"mark":{"type":"line","color":"#2b3ef2","strokeWidth":3},"encoding":{"x":{"field":"v","type":"quantitative","axis":{"values":[-400,-200,0,200,400],"labelOverlap":false,"title":"Velocity (km s⁻¹)"}},"y":{"field":"f","type":"quantitative","scale":{"domain":[-0.048,0.472],"nice":false,"zero":false},"axis":{"values":[0,0.1,0.2,0.3,0.4],"title":null}}}},
      {"data":{"name":"red"},"mark":{"type":"line","color":"#ff0d0d","strokeWidth":1.5},"encoding":{"x":{"field":"v","type":"quantitative","axis":{"values":[-400,-200,0,200,400],"labelOverlap":false,"title":"Velocity (km s⁻¹)"}},"y":{"field":"f","type":"quantitative","scale":{"domain":[-2.2,21.5],"nice":false,"zero":false},"axis":{"orient":"right","values":[0,5,10,15,20],"title":null}}}}
    ],"resolve":{"scale":{"y":"independent"},"axis":{"y":"independent"}}},
    {"width":128,"height":97,"title":"[Fe X] λ6375","layer":[
      {"data":{"values":[{}]},"mark":{"type":"rule","strokeDash":[6,4],"color":"#595959","strokeWidth":0.8},"encoding":{"x":{"datum":0,"type":"quantitative","scale":{"domain":[-530,540],"nice":false},"axis":{"values":[-400,-200,0,200,400],"labelOverlap":false,"title":"Velocity (km s⁻¹)"}}}},
      {"data":{"values":[{}]},"mark":{"type":"rule","strokeDash":[6,4],"color":"#a6a6a6","strokeWidth":0.8},"encoding":{"y":{"datum":0,"type":"quantitative","scale":{"domain":[-0.17,1.66],"nice":false,"zero":false},"axis":null}}},
      {"data":{"name":"b14"},"mark":{"type":"line","color":"#2b3ef2","strokeWidth":3},"encoding":{"x":{"field":"v","type":"quantitative","axis":{"values":[-400,-200,0,200,400],"labelOverlap":false,"title":"Velocity (km s⁻¹)"}},"y":{"field":"f","type":"quantitative","scale":{"domain":[-0.17,1.66],"nice":false,"zero":false},"axis":{"values":[0,0.5,1,1.5],"title":null}}}},
      {"data":{"name":"red"},"mark":{"type":"line","color":"#ff0d0d","strokeWidth":1.5},"encoding":{"x":{"field":"v","type":"quantitative","axis":{"values":[-400,-200,0,200,400],"labelOverlap":false,"title":"Velocity (km s⁻¹)"}},"y":{"field":"f","type":"quantitative","scale":{"domain":[-2.2,21.5],"nice":false,"zero":false},"axis":{"orient":"right","values":[0,5,10,15,20],"title":null}}}}
    ],"resolve":{"scale":{"y":"independent"},"axis":{"y":"independent"}}},
    {"width":128,"height":97,"title":"[Fe XI] λ7892","layer":[
      {"data":{"values":[{}]},"mark":{"type":"rule","strokeDash":[6,4],"color":"#595959","strokeWidth":0.8},"encoding":{"x":{"datum":0,"type":"quantitative","scale":{"domain":[-530,540],"nice":false},"axis":{"values":[-400,-200,0,200,400],"labelOverlap":false,"title":"Velocity (km s⁻¹)"}}}},
      {"data":{"values":[{}]},"mark":{"type":"rule","strokeDash":[6,4],"color":"#a6a6a6","strokeWidth":0.8},"encoding":{"y":{"datum":0,"type":"quantitative","scale":{"domain":[-0.18,1.73],"nice":false,"zero":false},"axis":null}}},
      {"data":{"name":"b15"},"mark":{"type":"line","color":"#2b3ef2","strokeWidth":3},"encoding":{"x":{"field":"v","type":"quantitative","axis":{"values":[-400,-200,0,200,400],"labelOverlap":false,"title":"Velocity (km s⁻¹)"}},"y":{"field":"f","type":"quantitative","scale":{"domain":[-0.18,1.73],"nice":false,"zero":false},"axis":{"values":[0,0.5,1,1.5],"title":null}}}},
      {"data":{"name":"red"},"mark":{"type":"line","color":"#ff0d0d","strokeWidth":1.5},"encoding":{"x":{"field":"v","type":"quantitative","axis":{"values":[-400,-200,0,200,400],"labelOverlap":false,"title":"Velocity (km s⁻¹)"}},"y":{"field":"f","type":"quantitative","scale":{"domain":[-2.2,21.7],"nice":false,"zero":false},"axis":{"orient":"right","values":[0,5,10,15,20],"title":null}}}}
    ],"resolve":{"scale":{"y":"independent"},"axis":{"y":"independent"}}},
    {"width":128,"height":97,"title":"[Fe XIV] λ5303","layer":[
      {"data":{"values":[{}]},"mark":{"type":"rule","strokeDash":[6,4],"color":"#595959","strokeWidth":0.8},"encoding":{"x":{"datum":0,"type":"quantitative","scale":{"domain":[-530,540],"nice":false},"axis":{"values":[-400,-200,0,200,400],"labelOverlap":false,"title":"Velocity (km s⁻¹)"}}}},
      {"data":{"values":[{}]},"mark":{"type":"rule","strokeDash":[6,4],"color":"#a6a6a6","strokeWidth":0.8},"encoding":{"y":{"datum":0,"type":"quantitative","scale":{"domain":[-0.18,1.73],"nice":false,"zero":false},"axis":null}}},
      {"data":{"name":"b16"},"mark":{"type":"line","color":"#2b3ef2","strokeWidth":3},"encoding":{"x":{"field":"v","type":"quantitative","axis":{"values":[-400,-200,0,200,400],"labelOverlap":false,"title":"Velocity (km s⁻¹)"}},"y":{"field":"f","type":"quantitative","scale":{"domain":[-0.18,1.73],"nice":false,"zero":false},"axis":{"values":[0,0.5,1,1.5],"title":null}}}},
      {"data":{"name":"red"},"mark":{"type":"line","color":"#ff0d0d","strokeWidth":1.5},"encoding":{"x":{"field":"v","type":"quantitative","axis":{"values":[-400,-200,0,200,400],"labelOverlap":false,"title":"Velocity (km s⁻¹)"}},"y":{"field":"f","type":"quantitative","scale":{"domain":[-2.2,21.7],"nice":false,"zero":false},"axis":{"orient":"right","values":[0,5,10,15,20],"title":null}}}}
    ],"resolve":{"scale":{"y":"independent"},"axis":{"y":"independent"}}}
  ]
}
